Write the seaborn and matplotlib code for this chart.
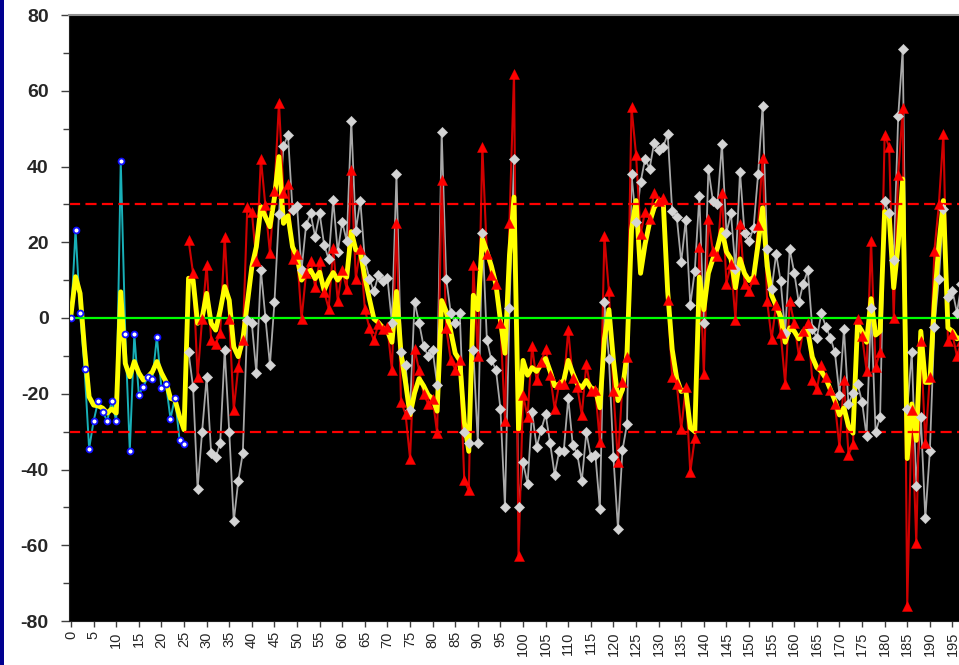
import numpy as np
import pandas as pd
import matplotlib
matplotlib.use("Agg")
import matplotlib.pyplot as plt
from matplotlib.patches import Rectangle
from matplotlib.ticker import MultipleLocator
import seaborn as sns

# ---------------- data ----------------
cyan_x = list(range(0, 26))
cyan_y = [0, 23.3, 1.4, -13.5, -34.5, -27.2, -21.9, -24.7, -27.2, -21.9,
          -27.2, 41.5, -4.3, -35.1, -4.3, -20.3, -18.1, -15.5, -16.2, -4.9,
          -18.6, -17.4, -26.6, -21.0, -32.2, -33.2]

gray_x = list(range(26, 198))
gray_y = [-9.1, -18.2, -45.1, -30, -15.6, -35.7, -36.7, -33.1, -8.4, -30,
          -53.7, -43, -35.7, -0.5, -1.4, -14.6, 12.7, 0, -12.4, 4.1,
          27.4, 45.4, 48.3, 28.5, 29.6, 12.7, 24.5, 27.6, 21.5, 27.6,
          19.3, 15.5, 31.2, 17.5, 25.4, 20.2, 52.1, 23.1, 31.0, 15.3,
          10.4, 7.0, 11.3, 9.7, 10.5, -1.3, 37.9, -9.1, -12.5, -24.4,
          4.3, -1.3, -7.4, -10.1, -8.5, -17.6, 49.2, 10.4, 1.4, -1.3,
          1.4, -30.2, -33.1, -8.5, -33.1, 22.5, -5.8, -11.2, -13.6, -24.0,
          -49.9, 2.7, 42.0, -49.9, -38.1, -43.8, -24.8, -34.0, -29.6, -25.4,
          -33.1, -41.4, -35.2, -35.2, -21.1, -33.5, -35.9, -43.1, -30.2, -36.6,
          -36.1, -50.3, 4.1, -10.7, -36.8, -55.6, -34.9, -28.0, 37.9, 25.4,
          35.8, 42.0, 39.4, 46.3, 44.4, 45.2, 48.5, 28.3, 26.7, 14.7,
          26.0, 3.4, 12.5, 32.1, -1.2, 39.4, 31.0, 30.0, 46.0, 22.5,
          27.6, 12.9, 38.6, 22.5, 20.4, 23.8, 37.9, 56.1, 18.2, 7.7,
          16.9, 9.7, -4.0, 18.2, 12.0, 4.1, 9.1, 12.6, -2.9, -5.2,
          1.2, -2.3, -5.2, -9.1, -20.3, -2.9, -22.7, -19.8, -17.4, -22.1,
          -31.2, 2.7, -30.2, -26.1, 31.0, 27.6, 15.3, 53.3, 71.0, -24.0,
          -9.1, -44.3, -26.1, -52.9, -35.2, -2.3, 10.4, 28.9, 5.6, 7.2,
          1.4, 9.0]

red_x = list(range(26, 198))
red_y = [20.6, 11.8, -15.6, -0.3, 14, -5.8, -6.9, -4, 21.5, -0.3,
         -24.2, -12.9, -5.7, 29.4, 28, 15.1, 42.1, 29.8, 17.2, 33.6,
         56.8, 32.9, 35.3, 15.5, 16.8, -0.3, 11.8, 15.1, 8.3, 15.1,
         6.9, 2.5, 18.4, 4.6, 12.6, 7.7, 39.1, 10.4, 18.3, 2.4,
         -2.6, -5.9, -1.5, -3, -2.5, -13.8, 25.0, -22.1, -25.3, -37.1,
         -8.1, -13.8, -20.0, -22.7, -21.3, -30.4, 36.5, -2.6, -11.0, -13.6,
         -11.0, -42.9, -45.5, 14.0, -10.1, 45.2, 16.8, 11.3, 9.1, -1.2,
         -27.3, 25.2, 64.5, -62.8, -20.3, -26.1, -7.4, -16.5, -11.7, -8.1,
         -15.1, -24.0, -17.4, -17.4, -3.3, -15.8, -18.1, -25.6, -12.2, -19.2,
         -19.1, -32.8, 21.6, 7.0, -19.4, -37.9, -17.0, -10.3, 55.7, 43.1,
         22.1, 28.1, 26.2, 33.1, 31.0, 31.7, 4.8, -15.5, -17.4, -29.4,
         -18.2, -40.7, -31.6, 18.7, -14.8, 26.2, 17.7, 16.4, 32.9, 9.1,
         14.2, -0.5, 24.7, 9.1, 7.2, 10.4, 24.5, 42.3, 4.4, -5.5,
         3.5, -4.0, -17.4, 4.4, -1.4, -9.8, -3.5, -1.2, -16.5, -18.7,
         -12.5, -15.5, -19.1, -22.7, -34.0, -16.3, -36.1, -33.3, -0.2, -4.7,
         -13.9, 20.2, -12.9, -9.0, 48.4, 45.1, 0.1, 37.7, 55.4, -76,
         -24.4, -59.4, -6.2, -33.1, -15.5, 17.7, 30.0, 48.7, -6.1, -4.3,
         -10.1, -6]

yellow_x = list(range(0, 198))
yellow_y = [1, 10.9, 6.5, -8.4, -20.8, -23, -23.2, -23.8, -25.1, -24,
            -25.1, 6.9, -12, -15.5, -11.5, -14.5, -16.4, -15.5, -14.2, -11.5,
            -14.5, -16.8, -21.2, -21.6, -26, -29.5, 10.5, 10.0, -1.4, 0,
            6.5, -1.4, -3.2, 2, 8.3, 4.7, -7.6, -10.2, -5.8, 3.9,
            13.5, 18.8, 29.4, 26.7, 24.1, 31.8, 42.6, 25, 27, 18.8,
            16.2, 10, 11.7, 12.6, 10.4, 12.1, 7.3, 10, 12, 10,
            11.8, 10.8, 22.8, 18, 17.5, 10.8, 5.1, -0.2, -1.2, -2.6,
            -3.5, -6.4, 7.0, -9.3, -17, -25.6, -19.8, -16, -17.9, -20.3,
            -21.3, -24.6, 4.6, 1.7, -3.5, -9.3, -11.2, -27.5, -35.2, 6.0,
            2.2, 20.9, 17.5, 13.7, 8.9, -0.7, -9.3, 16.6, 31.9, -29.4,
            -11.2, -15.1, -13.1, -14.1, -12.2, -10.7, -14.1, -17.9, -17.4, -16.5,
            -11.2, -14.6, -17.4, -18.4, -16.5, -18.4, -18.9, -23.7, -5.5, 2.2,
            -11.2, -21.8, -18.9, -9.3, 23.3, 31.0, 11.8, 19.5, 25.2, 29.1,
            31, 31, 7, -8.3, -16, -19.4, -18.9, -29, -30, 10.8,
            2.2, 11.8, 15.6, 18.5, 23.3, 17.5, 15.6, 8.0, 15.6, 11.8,
            9.9, 10.8, 19.5, 29.1, 13.7, 6.0, 3.2, 0.3, -6.4, -2.6,
            -3.5, -5.5, -3.5, -3.5, -10.3, -13.1, -14.1, -16, -18.9, -21.8,
            -25.6, -23.7, -28.5, -30.4, -1.6, -3.5, -6.4, 5.1, -4.5, -3.5,
            28.1, 27.1, 8.0, 19.5, 36.7, -37.1, -22.7, -32.3, -3.5, -17,
            -17, 4.1, 19.5, 31, -2.6, -3.5, -5.5, -5]

ref_zero = 0
ref_band = [30, -30]
y_ticks = list(range(-80, 81, 20))
x_ticks = list(range(0, 196, 5))

# ---------------- style ----------------
sns.set_style("white")
plt.rcParams["font.family"] = ["Liberation Sans", "DejaVu Sans"]

fig = plt.figure(figsize=(9.59, 6.65), dpi=100)
fig.patch.set_facecolor("white")
fig.patches.append(Rectangle((0, 0), 4 / 959, 1, transform=fig.transFigure,
                             facecolor="#000090", edgecolor="none"))

ax = fig.add_axes([69 / 959, 44 / 665, 890 / 959, 606 / 665])
ax.set_facecolor("black")

df_c = pd.DataFrame({"x": cyan_x, "y": cyan_y})
df_g = pd.DataFrame({"x": gray_x, "y": gray_y})
df_r = pd.DataFrame({"x": red_x, "y": red_y})
df_y = pd.DataFrame({"x": yellow_x, "y": yellow_y})

# lines
sns.lineplot(data=df_g, x="x", y="y", ax=ax, color="#a8a8a8", lw=1.3,
             estimator=None, sort=False, zorder=2)
sns.lineplot(data=df_r, x="x", y="y", ax=ax, color="#d00000", lw=1.5,
             estimator=None, sort=False, zorder=3)
sns.lineplot(data=df_c, x="x", y="y", ax=ax, color="#18b0b8", lw=1.4,
             estimator=None, sort=False, zorder=3)
sns.lineplot(data=df_y, x="x", y="y", ax=ax, color="#ffff00", lw=3.5,
             estimator=None, sort=False, zorder=4)

# reference lines
ax.axhline(ref_zero, color="#00ff00", lw=1.6, zorder=4.5)
for v in ref_band:
    ax.axhline(v, color="#ff0000", lw=1.6, dashes=(5, 2.4), zorder=4.5)

# markers
sns.scatterplot(data=df_g, x="x", y="y", ax=ax, marker="D", s=28,
                color="#d4d4d4", edgecolor="#d4d4d4", linewidth=0.3, zorder=5)
sns.scatterplot(data=df_c, x="x", y="y", ax=ax, marker="o", s=18,
                color="white", edgecolor="#1010ff", linewidth=1.3, zorder=5)
sns.scatterplot(data=df_r, x="x", y="y", ax=ax, marker="^", s=52,
                color="#ff0000", edgecolor="#ff0000", linewidth=0.3, zorder=6)

# axes
ax.set_xlim(-0.45, 196.45)
ax.set_ylim(-80, 80)
ax.set_xlabel("")
ax.set_ylabel("")
ax.set_yticks(y_ticks)
ax.set_yticklabels([str(t) for t in y_ticks], fontsize=14, fontweight="bold")
ax.yaxis.set_minor_locator(MultipleLocator(10))
ax.set_xticks(x_ticks)
ax.set_xticklabels([str(t) for t in x_ticks], rotation=90, fontsize=10.5)
ax.tick_params(axis="y", which="major", length=5.5, width=1, color="#404040",
               pad=9, left=True)
ax.tick_params(axis="y", which="minor", length=4, width=1, color="#404040",
               left=True)
ax.tick_params(axis="x", which="major", length=4.3, width=1, color="#404040",
               pad=3, bottom=True)
for s in ["left", "bottom"]:
    ax.spines[s].set_color("#202020")
ax.spines["top"].set_color("#909090")
ax.spines["top"].set_linewidth(1.5)
ax.spines["right"].set_visible(False)
for s in ax.spines.values():
    s.set_zorder(10)

fig.savefig("out.png", dpi=100, facecolor="white")
